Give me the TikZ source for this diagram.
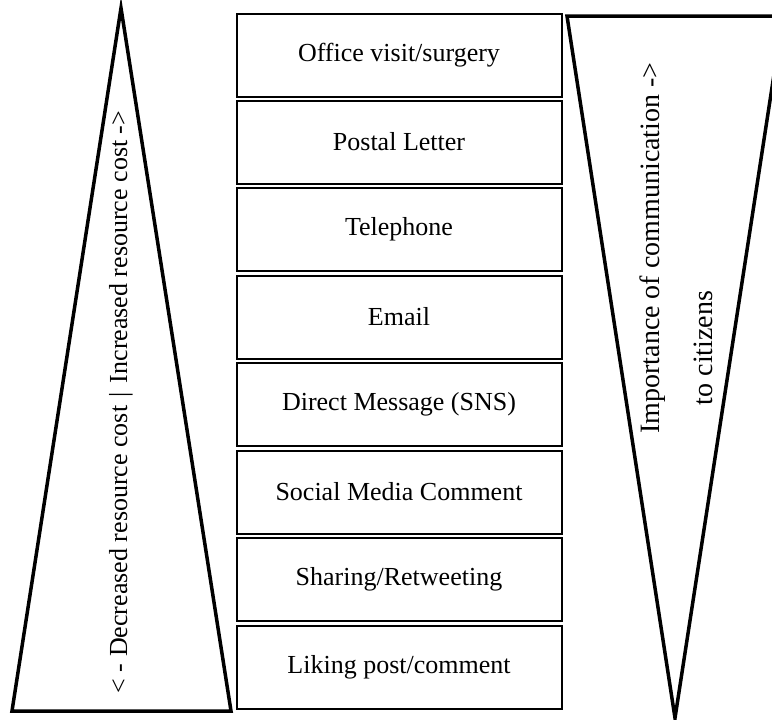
\documentclass[tikz,border=0pt]{standalone}
\usepackage{fontspec}
\setmainfont{Liberation Serif}
\begin{document}
\begin{tikzpicture}[x=1pt,y=-1pt,
  box/.style={draw=black,line width=2pt,rectangle,minimum width=325pt,minimum height=83pt,inner sep=0pt,font=\fontsize{26}{30}\selectfont},
  tri/.style={draw=black,line width=3.5pt,line join=miter},
  lbl/.style={rotate=90,inner sep=0pt}]
\useasboundingbox (0,0) rectangle (772,720);
\draw[tri] (121,8) -- (231,711) -- (12,711) -- cycle;
\draw[tri] (567,16) -- (783,16) -- (675,718) -- cycle;
\node[box] (b1) at (399,55) {Office visit/surgery};
\node[box] (b2) at (399,142) {Postal Letter};
\node[box] (b3) at (399,229.5) {Telephone};
\node[box] (b4) at (399,317) {Email};
\node[box] (b5) at (399,404.5) {Direct Message (SNS)};
\node[box] (b6) at (399,492) {Social Media Comment};
\node[box] (b7) at (399,579.5) {Sharing/Retweeting};
\node[box] (b8) at (399,667) {Liking post/comment};
\node[lbl,font=\fontsize{26}{30}\selectfont] (lt) at (121,402) {< - Decreased resource cost\,\,|\,\,Increased resource cost ->};
\node[lbl,font=\fontsize{28}{32}\selectfont] (rt1) at (653,248) {Importance of communication ->};
\node[lbl,font=\fontsize{28}{32}\selectfont] (rt2) at (703,348) {to citizens};
\end{tikzpicture}
\end{document}
